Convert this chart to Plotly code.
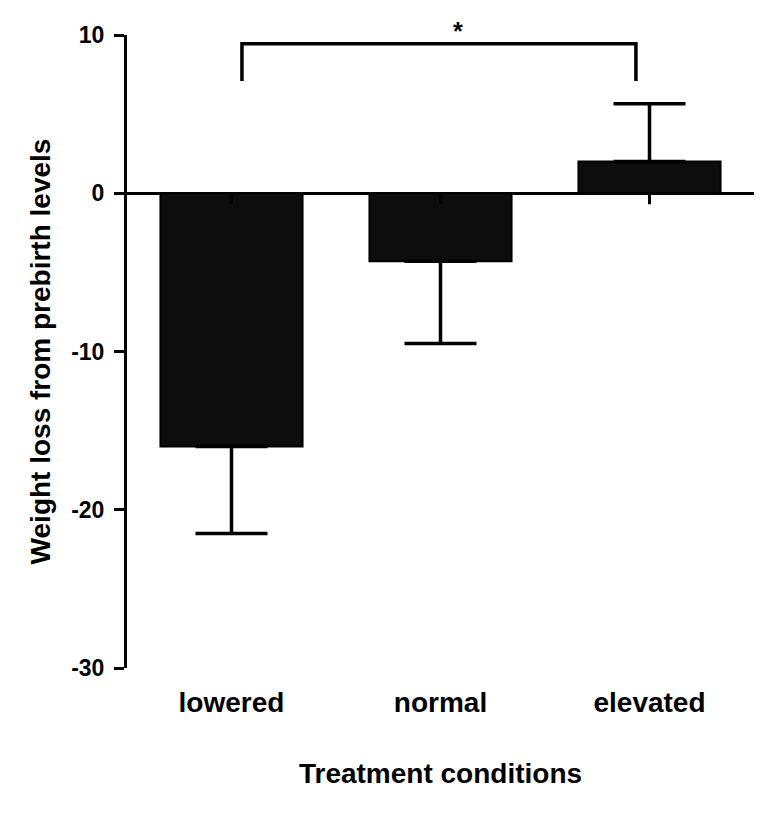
import plotly.graph_objects as go

# ---- data ----
categories = ["lowered", "normal", "elevated"]
means = [-16.0, -4.3, 2.0]
errors = [5.5, 5.2, 3.65]          # one-sided error (away from zero)
y_ticks = [-30, -20, -10, 0, 10]
y_tick_labels = ["-30", "-20", "-10", "0", "10"]
y_range = [-30, 10]

# significance bracket (lowered vs elevated)
bracket_x = [0.05, 0.05, 1.935, 1.935]
bracket_y = [7.1, 9.45, 9.45, 7.1]
star_text = "*"
star_x = 1.085

x_title = "Treatment conditions"
y_title = "Weight loss from prebirth levels"

FONT = "Liberation Sans, Arial, sans-serif"
xpos = list(range(len(categories)))

err_up = [e if m >= 0 else 0 for m, e in zip(means, errors)]
err_dn = [e if m < 0 else 0 for m, e in zip(means, errors)]

fig = go.Figure()
fig.add_trace(go.Bar(
    x=xpos, y=means, width=0.68,
    marker=dict(color="#0d0d0d", line=dict(color="black", width=2)),
    error_y=dict(type="data", symmetric=False, array=err_up, arrayminus=err_dn,
                 color="black", thickness=3.5, width=36),
    showlegend=False, hoverinfo="skip",
))
fig.add_trace(go.Scatter(
    x=bracket_x, y=bracket_y, mode="lines",
    line=dict(color="black", width=3.5),
    showlegend=False, hoverinfo="skip",
))

fig.add_annotation(x=star_x, y=bracket_y[1], text=star_text, showarrow=False,
                   yanchor="bottom", xanchor="center", yshift=-3,
                   font=dict(family=FONT, size=25, color="black", weight="bold"))

# category tick marks hanging below the zero line
for xi in xpos:
    fig.add_shape(type="line", xref="x", yref="y", ysizemode="pixel",
                  yanchor=0, x0=xi, x1=xi, y0=0, y1=-11,
                  line=dict(color="black", width=3), layer="above")

# page body adds an 8px offset, so the figure is 8px smaller and margins shifted
fig.update_layout(
    width=764, height=805,
    margin=dict(l=119, r=18, t=27, b=145, autoexpand=False),
    paper_bgcolor="white", plot_bgcolor="white",
    font=dict(family=FONT, color="black"),
    xaxis=dict(range=[-0.5, 2.5], tickvals=xpos, ticktext=categories,
               showline=False, showgrid=False, zeroline=False, ticks="",
               ticklabelstandoff=15,
               tickfont=dict(family=FONT, size=28, color="black", weight="bold"),
               title=dict(text=x_title, standoff=46,
                          font=dict(family=FONT, size=28, color="black", weight="bold"))),
    yaxis=dict(range=y_range, tickvals=y_ticks, ticktext=y_tick_labels, showgrid=False,
               showline=True, linecolor="black", linewidth=3,
               ticks="outside", ticklen=10, tickwidth=3, tickcolor="black",
               zeroline=True, zerolinecolor="black", zerolinewidth=3,
               ticklabelstandoff=5,
               tickfont=dict(family=FONT, size=23, color="black", weight="bold"),
               title=dict(text=y_title, standoff=13,
                          font=dict(family=FONT, size=28, color="black", weight="bold"))),
)

fig.write_html("out.html")
